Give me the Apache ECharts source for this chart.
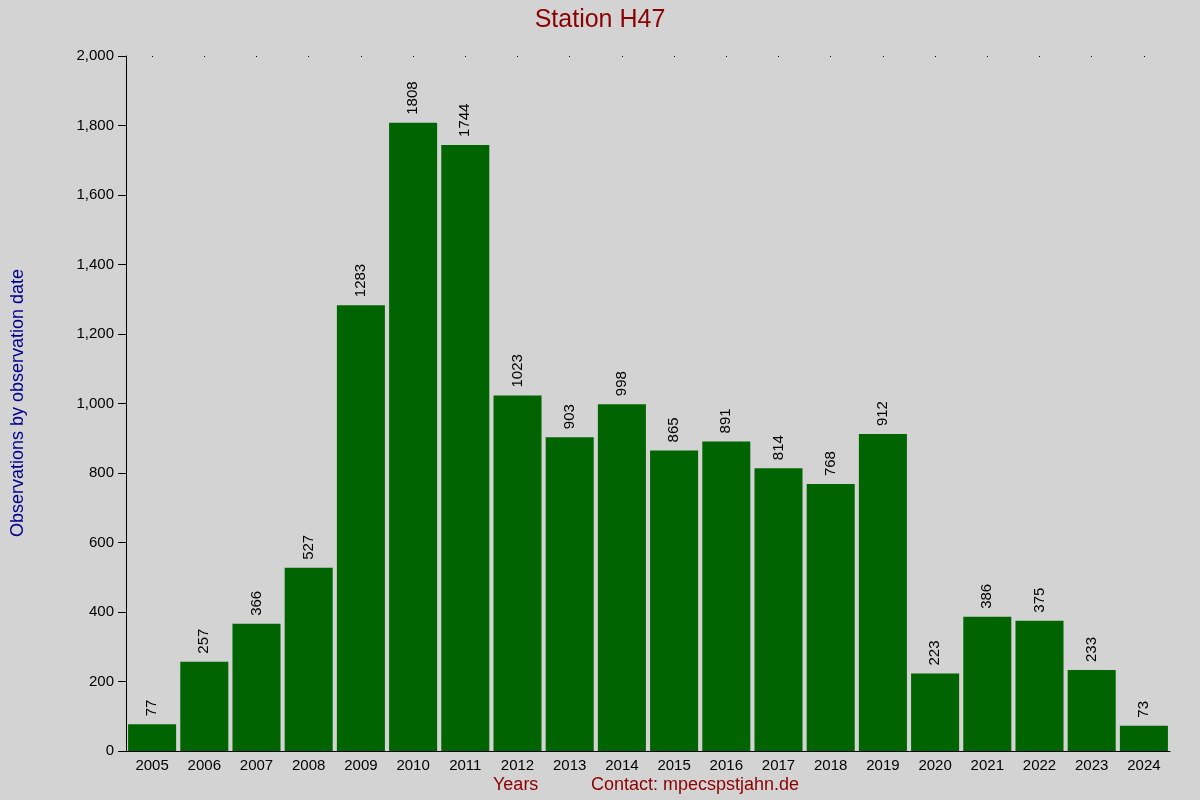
<!DOCTYPE html>
<html><head><meta charset="utf-8">
<script src="https://cdn.jsdelivr.net/npm/echarts@6/dist/echarts.min.js"></script>
<style>html,body{margin:0;padding:0;background:#d3d3d3}#c{width:1200px;height:800px}</style>
</head><body><div id="c"></div>
<script>
const years = ['2005','2006','2007','2008','2009','2010','2011','2012','2013','2014','2015','2016','2017','2018','2019','2020','2021','2022','2023','2024'];
const counts = [77,257,366,527,1283,1808,1744,1023,903,998,865,891,814,768,912,223,386,375,233,73];
const yTicks = [0,200,400,600,800,1000,1200,1400,1600,1800,2000];
const ff = 'Liberation Sans, Arial, sans-serif';
const chart = echarts.init(document.getElementById('c'));
chart.setOption({
  backgroundColor:'#d3d3d3',
  animation:false,
  title:{text:'Station H47',left:'center',top:3,textStyle:{color:'#8b0000',fontSize:25,fontWeight:'normal',fontFamily:ff}},
  graphic:[
    {type:'text',left:493,top:776,style:{text:'Years',fill:'#8b0000',font:'18px '+ff}},
    {type:'text',left:591,top:776,style:{text:'Contact: mpecspstjahn.de',fill:'#8b0000',font:'18px '+ff}},
    {type:'text',x:18,y:403,rotation:Math.PI/2,style:{text:'Observations by observation date',fill:'#00008b',font:'18px '+ff,align:'center',verticalAlign:'middle'}}
  ],
  grid:{left:126,right:30,top:56,bottom:49},
  xAxis:[{type:'category',data:years,axisLine:{lineStyle:{color:'#000'}},axisTick:{show:false},
    axisLabel:{color:'#000',fontSize:15,fontFamily:ff,margin:7}},
    {type:'category',data:years,position:'top',axisLine:{show:false},axisTick:{show:true,alignWithLabel:true,length:1,inside:true,lineStyle:{color:'#000'}},axisLabel:{show:false}}],
  yAxis:{type:'value',min:yTicks[0],max:yTicks[yTicks.length-1],interval:200,
    axisLine:{show:true,lineStyle:{color:'#000'}},axisTick:{show:true,length:8,lineStyle:{color:'#000'}},
    splitLine:{show:false},axisLabel:{color:'#000',fontSize:15,fontFamily:ff,margin:12}},
  series:[{type:'bar',data:counts,barCategoryGap:'8%',itemStyle:{color:'#006400'},
    label:{show:true,position:'top',rotate:90,align:'left',verticalAlign:'middle',distance:8,color:'#000',fontSize:15,fontFamily:ff}}]
});
</script></body></html>
